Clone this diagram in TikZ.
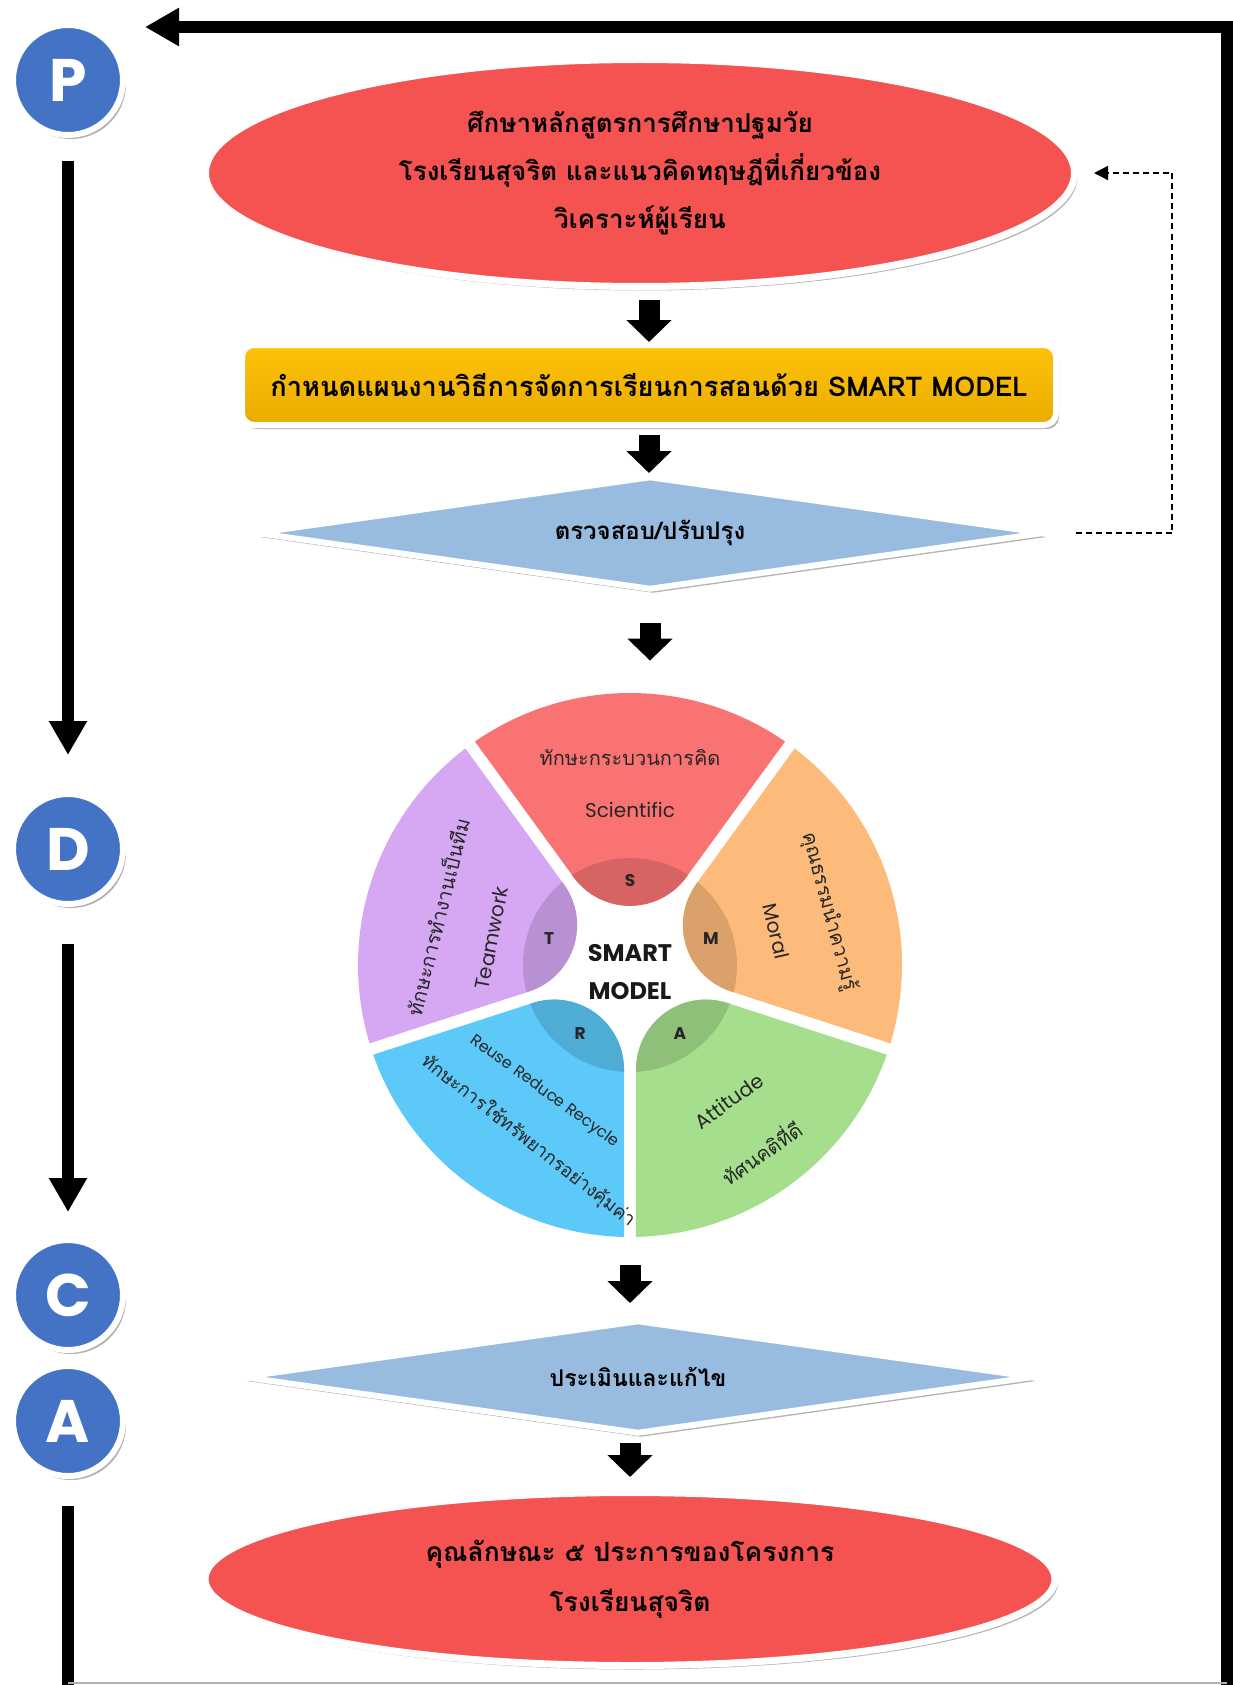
\documentclass[tikz,border=0pt]{standalone}
\usepackage{fontspec}
\newfontfamily\thaifont[Script=Thai]{Loma}
\newfontfamily\popfont{Poppins}
\usetikzlibrary{shapes.geometric,arrows.meta,shadows,calc}

\definecolor{goalred}{HTML}{F55252}
\definecolor{plantop}{HTML}{FFC20A}
\definecolor{planbottom}{HTML}{E9AC00}
\definecolor{checkblue}{HTML}{98BCE0}
\definecolor{pdcablue}{HTML}{4472C4}
\definecolor{piered}{HTML}{FA7373}
\definecolor{pieorange}{HTML}{FDBB7B}
\definecolor{piegreen}{HTML}{A5DF8D}
\definecolor{pieblue}{HTML}{5CC9F8}
\definecolor{piepurple}{HTML}{D6A8F4}

\tikzset{
  boxshadow/.style={drop shadow={shadow xshift=1.5pt,shadow yshift=-2pt,opacity=.3,fill=black}},
  ovalbox/.style={ellipse, fill=goalred, draw=white, line width=3.5pt, inner sep=0pt, boxshadow, align=center,
    font=\thaifont\bfseries\fontsize{13}{24}\selectfont},
  planbox/.style={rectangle, rounded corners=6pt, top color=plantop, bottom color=planbottom,
    draw=white, line width=3pt, inner sep=0pt, boxshadow, font=\thaifont\bfseries\fontsize{13.6}{16}\selectfont},
  checkbox/.style={diamond, aspect=7, fill=checkblue, draw=white, line width=3pt, inner sep=0pt, boxshadow},
  pdca/.style={circle, fill=pdcablue, draw=white, line width=3pt, minimum size=55pt, inner sep=0pt, boxshadow,
    text=white, font=\popfont\bfseries\fontsize{30}{30}\selectfont},
  blockarrow/.style={line width=10.5pt, -{Triangle[width=22pt,length=11pt]}},
  loopline/.style={line width=6pt, -{Triangle[width=18pt,length=17pt]}},
  feedback/.style={line width=0.7pt, dash pattern=on 3pt off 2pt, -{Triangle[width=7pt,length=7pt]}},
  pietext/.style={text=black!85, inner sep=1pt, font=\thaifont\fontsize{10}{12}\selectfont},
  pieword/.style={text=black!85, inner sep=1pt, font=\popfont\fontsize{10}{12}\selectfont},
  pieletter/.style={text=black!85, font=\popfont\bfseries\fontsize{8.5}{10}\selectfont}
}

\begin{document}
\begin{tikzpicture}[x=0.5pt,y=-0.5pt]
\useasboundingbox (0,0) rectangle (1232,1685);

% PDCA
\node[pdca] (P) at (68,80) {P};
\node[pdca] (D) at (68,849) {D};
\node[pdca] (C) at (68,1295) {C};
\node[pdca] (A) at (68,1421) {A};

% Steps
\node[ovalbox, minimum width=434.5pt, minimum height=113.5pt] (goal) at (640,173)
  {ศึกษาหลักสูตรการศึกษาปฐมวัย\\โรงเรียนสุจริต และแนวคิดทฤษฎีที่เกี่ยวข้อง\\วิเคราะห์ผู้เรียน};
\node[planbox, minimum width=407pt, minimum height=40pt] (plan) at (649,385)
  {กำหนดแผนงานวิธีการจัดการเรียนการสอนด้วย SMART MODEL};
\node[checkbox, minimum width=394.5pt, minimum height=57pt, font=\thaifont\bfseries\fontsize{12}{14}\selectfont] (check) at (650,533)
  {ตรวจสอบ/ปรับปรุง};
\node[circle, minimum size=272pt, inner sep=0pt] (pie) at (630,965) {};
\node[checkbox, minimum width=396pt, minimum height=57pt, font=\thaifont\bfseries\fontsize{11.5}{14}\selectfont] (eval) at (638,1377)
  {ประเมินและแก้ไข};
\node[ovalbox, minimum width=425pt, minimum height=86.5pt, font=\thaifont\bfseries\fontsize{13.2}{25}\selectfont] (result) at (630,1579)
  {คุณลักษณะ ๕ ประการของโครงการ\\โรงเรียนสุจริต};

% SMART MODEL wheel
\begin{scope}[shift={(630,965)}, y=0.5pt]
\foreach \ang/\col in {90/piered,18/pieorange,-54/piegreen,-126/pieblue,162/piepurple}{
  \begin{scope}
    \clip (\ang-34.75:272) arc[start angle=\ang-34.75, end angle=\ang+34.75, radius=272]
      -- ($(\ang+36:104.4)+(\ang-54:6)$)
      arc[start angle=\ang+126, end angle=\ang+234, radius=69.8] -- cycle;
    \fill[\col] (0,0) circle (280);
    \fill[\col!86!black] (0,0) circle (107);
  \end{scope}
}
\node[pieletter] (s) at (90:85) {S};
\node[pieletter] (m) at (18:85) {M};
\node[pieletter] (a) at (306:85) {A};
\node[pieletter] (r) at (234:85) {R};
\node[pieletter] (t) at (162:85) {T};
\node[align=center, text=black!90, font=\popfont\bfseries\fontsize{12}{19}\selectfont] (smart) at (0,-7) {SMART\\MODEL};
\node[pietext] at (90:207) {ทักษะกระบวนการคิด};
\node[pieword] at (90:155) {Scientific};
\node[pietext, rotate=-75] at (15:206) {คุณธรรมนำความรู้};
\node[pieword, rotate=-77] at (13:150) {Moral};
\node[pieword, rotate=36] at (-54:168) {Attitude};
\node[pietext, rotate=35] at (-55:228) {ทัศนคติที่ดี};
\node[pieword, rotate=-36, font=\popfont\fontsize{8}{10}\selectfont] at (236:153) {Reuse Reduce Recycle};
\node[pietext, rotate=-38, font=\thaifont\fontsize{9.3}{12}\selectfont] at (240:203) {ทักษะการใช้ทรัพยากรอย่างคุ้มค่า};
\node[pietext, rotate=76] at (166:199) {ทักษะการทำงานเป็นทีม};
\node[pieword, rotate=79] at (169:141) {Teamwork};
\end{scope}

% Arrows
\draw[blockarrow, shorten <=5pt] (goal.south -| plan.north) -- (plan.north);
\draw[blockarrow, shorten <=3.5pt] (plan.south) -- (plan.south |- check.north);
\draw[blockarrow, shorten <=15pt, shorten >=16pt] (check.south) -- (check.south |- pie.north);
\draw[blockarrow, shorten <=14pt, shorten >=7pt] (pie.south) -- (pie.south |- eval.north);
\draw[blockarrow, shorten <=3pt, shorten >=6pt] (eval.south -| pie.south) -- (pie.south |- result.north);

% Feedback
\coordinate (fb) at (1172,173);
\draw[feedback, shorten <=14pt, shorten >=8pt] (check.east) -| (fb) -- (goal.east);

% PDCA loop
\coordinate (loopbr) at (1227,1692);
\coordinate (looptr) at (1227,27);
\draw[loopline, shorten <=11.5pt, shorten >=18pt] (P.south) -- (P.south |- D.north);
\draw[loopline, shorten <=18.5pt, shorten >=12.5pt] (D.south) -- (D.south |- C.north);
\draw[loopline, shorten <=13.5pt, shorten >=9.5pt] (A.south) -- (A.south |- loopbr) -- (loopbr) -- (looptr) -- (looptr -| P.east);
\draw[black!30, line width=1pt] ([yshift=4.5pt]A.south |- loopbr) -- ([yshift=4.5pt]loopbr);

\end{tikzpicture}
\end{document}
